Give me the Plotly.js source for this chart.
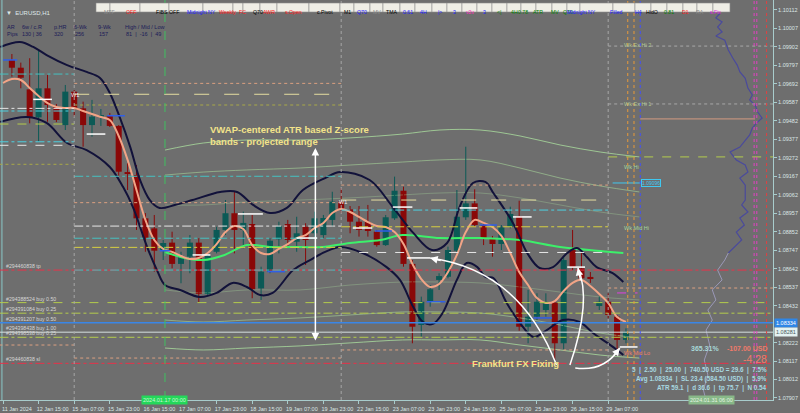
<!DOCTYPE html>
<html><head><meta charset="utf-8">
<script src="https://cdn.plot.ly/plotly-3.0.1.min.js"></script>
<style>html,body{margin:0;padding:0;background:#6e6e6e;overflow:hidden}#chart{width:800px;height:413px}</style>
</head><body><div id="chart"></div>
<script>
// ---------- DATA ----------
const candleOpen  = [1.09828,1.09784,1.09661,1.09502,1.09667,1.09562,1.09458,1.09648,1.09553,1.09458,1.09504,1.09510,1.09453,1.09191,1.09174,1.08928,1.08871,1.08744,1.08790,1.08669,1.08710,1.08790,1.08498,1.08738,1.08862,1.08957,1.08862,1.08896,1.08530,1.08625,1.08809,1.08896,1.08795,1.08880,1.08843,1.08833,1.08919,1.09023,1.08979,1.08909,1.08907,1.08852,1.08776,1.08928,1.09085,1.08669,1.08322,1.08454,1.08578,1.08596,1.08744,1.08934,1.09013,1.08890,1.08815,1.08782,1.08880,1.08941,1.08312,1.08369,1.08407,1.08449,1.08218,1.08748,1.08644,1.08595,1.08430,1.08454,1.08369,1.08237];
const candleHigh  = [1.09862,1.09813,1.09838,1.09879,1.09743,1.09578,1.09686,1.09657,1.09591,1.09601,1.09549,1.09527,1.09458,1.09242,1.09231,1.08958,1.08947,1.08805,1.08852,1.08738,1.08833,1.08815,1.08731,1.08880,1.09032,1.09079,1.08966,1.08947,1.08653,1.08815,1.08909,1.08919,1.08937,1.08900,1.08966,1.08947,1.09079,1.09099,1.08998,1.08998,1.09004,1.08862,1.08947,1.09165,1.09108,1.08691,1.08483,1.08549,1.08616,1.08767,1.09089,1.09335,1.09093,1.08900,1.08828,1.08890,1.08994,1.09028,1.08521,1.08502,1.08502,1.08464,1.08710,1.08862,1.08733,1.08623,1.08483,1.08502,1.08379,1.08303];
const candleLow   = [1.09733,1.09667,1.09468,1.09364,1.09477,1.09475,1.09430,1.09506,1.09335,1.09392,1.09453,1.09447,1.09165,1.09089,1.08862,1.08738,1.08625,1.08691,1.08644,1.08559,1.08616,1.08449,1.08487,1.08729,1.08833,1.08729,1.08758,1.08474,1.08464,1.08616,1.08729,1.08767,1.08738,1.08663,1.08824,1.08816,1.08880,1.08957,1.08843,1.08824,1.08824,1.08767,1.08771,1.08919,1.08653,1.08218,1.08255,1.08426,1.08521,1.08587,1.08729,1.08919,1.08880,1.08776,1.08710,1.08748,1.08871,1.08289,1.08218,1.08350,1.08369,1.08123,1.08180,1.08634,1.08578,1.08561,1.08407,1.08360,1.08180,1.08218];
const candleClose = [1.09784,1.09727,1.09502,1.09667,1.09572,1.09487,1.09648,1.09553,1.09458,1.09506,1.09515,1.09453,1.09193,1.09180,1.08928,1.08815,1.08744,1.08788,1.08669,1.08710,1.08790,1.08498,1.08714,1.08862,1.08957,1.08862,1.08902,1.08525,1.08625,1.08801,1.08884,1.08805,1.08843,1.08805,1.08928,1.08930,1.09023,1.08979,1.08909,1.08862,1.08856,1.08776,1.08934,1.09085,1.08669,1.08312,1.08454,1.08525,1.08600,1.08748,1.08937,1.09013,1.08890,1.08815,1.08782,1.08877,1.08953,1.08312,1.08369,1.08454,1.08447,1.08218,1.08691,1.08650,1.08587,1.08583,1.08454,1.08379,1.08237,1.08284];
const candleIdx = candleOpen.map((_, k) => k + 1);

// salmon moving average (one value per bar, bar 0..70)
const maValues = [1.09697,1.09720,1.09714,1.09669,1.09623,1.09583,1.09561,1.09555,1.09555,1.09538,1.09521,1.09504,1.09487,1.09396,1.09260,1.09089,1.08919,1.08805,1.08754,1.08737,1.08714,1.08697,1.08703,1.08731,1.08782,1.08850,1.08884,1.08867,1.08776,1.08731,1.08725,1.08754,1.08782,1.08816,1.08833,1.08873,1.08902,1.08958,1.08981,1.08964,1.08936,1.08907,1.08884,1.08879,1.08850,1.08782,1.08669,1.08583,1.08538,1.08555,1.08623,1.08720,1.08850,1.08919,1.08902,1.08879,1.08828,1.08731,1.08623,1.08549,1.08475,1.08447,1.08458,1.08515,1.08561,1.08578,1.08543,1.08498,1.08447,1.08367,1.08339];
const maIdx = maValues.map((_, k) => k);

// dark navy envelope
const upIdx = [-0.3,1.9,3.4,4.9,7.2,9.4,10.9,12.0,13.1,14.3,15.4,16.5,17.6,19.3,21.3,24.4,26.3,28.1,30.0,31.9,33.7,36.2,37.9,41.2,43.8,46.1,48.2,49.9,51.3,52.8,54.2,55.1,57.3,58.9,60.3,61.8,63.4,64.5,65.6,66.7,68.5,69.7];
const upVal = [1.09902,1.09930,1.09902,1.09856,1.09799,1.09760,1.09726,1.09640,1.09504,1.09333,1.09146,1.09032,1.08987,1.09004,1.09032,1.09078,1.09078,1.09004,1.08958,1.08987,1.09089,1.09157,1.09191,1.09146,1.08992,1.08845,1.08748,1.08788,1.08992,1.09129,1.09135,1.09072,1.08902,1.08731,1.08646,1.08651,1.08731,1.08759,1.08708,1.08651,1.08617,1.08566];
const loIdx = [-0.3,2.7,4.9,7.2,9.4,12.0,13.5,14.6,16.2,17.3,18.2,19.9,22.1,24.0,25.8,27.4,28.9,30.3,32.6,34.5,36.2,37.9,40.4,43.1,44.6,46.1,47.2,48.3,49.4,51.0,52.1,53.3,54.2,55.1,56.6,58.1,59.6,61.1,62.9,64.8,66.3,67.9,69.0,69.7];
const loVal = [1.09476,1.09504,1.09470,1.09356,1.09316,1.09220,1.09106,1.08992,1.08765,1.08634,1.08549,1.08521,1.08481,1.08504,1.08561,1.08538,1.08492,1.08504,1.08634,1.08691,1.08737,1.08765,1.08731,1.08651,1.08578,1.08424,1.08339,1.08328,1.08390,1.08578,1.08674,1.08651,1.08595,1.08589,1.08447,1.08333,1.08254,1.08293,1.08350,1.08339,1.08276,1.08220,1.08180,1.08151];

// VWAP (bright green)
const vwapIdx = [18.2,20.4,22.5,24.9,27.4,30.0,33.4,35.9,39.0,42.4,44.9,49.1,53.6,58.1,62.6,67.1,69.7];
const vwapVal = [1.08737,1.08703,1.08691,1.08720,1.08776,1.08765,1.08765,1.08765,1.08788,1.08805,1.08833,1.08816,1.08816,1.08805,1.08765,1.08742,1.08731];

// ATR z-score bands (pale green)
const zIdx = [18.2,22.5,27.4,33.4,39.0,44.9,49.1,53.6,58.1,62.6,67.1,71.5];
const zUp3 = [1.09316,1.09356,1.09373,1.09373,1.09385,1.09407,1.09430,1.09430,1.09396,1.09345,1.09305,1.09277];
const zUp2 = [1.09174,1.09191,1.09203,1.09214,1.09231,1.09248,1.09260,1.09260,1.09214,1.09157,1.09112,1.09078];
const zUp1 = [1.09004,1.09004,1.09021,1.09032,1.09044,1.09061,1.09072,1.09072,1.09044,1.09004,1.08964,1.08936];
const zLo1 = [1.08521,1.08504,1.08521,1.08521,1.08549,1.08566,1.08566,1.08561,1.08538,1.08509,1.08481,1.08464];
const zLo2 = [1.08350,1.08339,1.08350,1.08362,1.08379,1.08396,1.08396,1.08390,1.08362,1.08322,1.08276,1.08248];
const zLo3 = [1.08191,1.08180,1.08191,1.08203,1.08220,1.08237,1.08237,1.08237,1.08208,1.08180,1.08151,1.08134];

// volume profile (right side)
const profIdxA = [80.6,80.1,80.8,80.3,80.8,80.1,81.1,81.5,82.0,82.5,82.8,83.4,83.7,84.2,83.9,84.5,84.8,85.3,84.8,84.2,83.9,83.4,82.8,81.7,82.4,83.4,83.7,82.8,83.4,83.4,83.0,83.7,82.8,83.3,82.4,83.0,82.1,81.5];
const profValA = [1.10095,1.10067,1.10044,1.10015,1.09987,1.09964,1.09941,1.09885,1.09839,1.09799,1.09760,1.09724,1.09669,1.09629,1.09601,1.09572,1.09532,1.09498,1.09476,1.09441,1.09402,1.09373,1.09333,1.09305,1.09260,1.09231,1.09191,1.09157,1.09117,1.09032,1.09004,1.08964,1.08930,1.08890,1.08850,1.08805,1.08759,1.08731];
const profIdxB = [81.5,81.1,80.3,80.8,79.7,80.1,79.2,79.7,79.0,79.4,78.8,79.2,78.7,79.0];
const profValB = [1.08731,1.08691,1.08634,1.08578,1.08521,1.08464,1.08407,1.08350,1.08293,1.08208,1.08123,1.08038,1.07952,1.07895];

// horizontal levels
const levelPrice = [1.08634,1.08449,1.08389,1.08334,1.08281,1.08252,1.08104,
  1.09748,1.09553,1.09538,1.09464,1.09363,1.09343,1.09235,1.08208,
  1.09695,1.09633,1.09572,1.09167,1.09017,1.08884,1.08815,1.08763,1.08634,1.08134,
  1.09117,1.09032,1.08975,1.08880,1.08734,1.08180,
  1.09907,1.09578,1.09277,1.08532,
  1.09493,1.08504,1.09129];
const levelFrom = [-0.4,-0.4,-0.4,-0.4,-0.4,-0.4,-0.4,
  -0.4,-0.4,-0.4,-0.4,-0.4,-0.4,-0.4,-0.4,
  8,8,8,8,8,8,8,8,8,8,
  38,38,38,38,38,38,
  68,68,68,68,
  71.6,69,68.5];
const levelTo = [86.6,86.6,86.6,86.6,86.6,86.6,86.6,
  8,8,8,8,8,8,8,8,
  38,38,38,38,38,38,38,38,38,38,
  68,68,68,68,68,68,
  86.6,86.6,86.6,86.6,
  84.5,71.3,71.6];
const levelKind = ['red','yg','ygdd','blue','bid','ygdd','red',
  'teal','whitedd','cyan','yg','cyan','whited','olive','salmon',
  'salmon','pale','olive','teal','salmon','whitedd','teal','yellow','teal','salmon',
  'salmon','pale','cyan','yellow','whited','salmon',
  'gray','gray','yg','salmon',
  'poc','magenta','cyanSolid'];

// short bar markers
const whiteMarkFrom = [3.4,9.4,21.3,26.4,33.0,39.3,43.8,45.4,51.3,57.3,63.4,69.3];
const whiteMarkTo   = [5.5,11.5,23.3,29.2,35.3,41.5,46.0,48.0,53.3,59.4,65.4,71.3];
const whiteMarkVal  = [1.09604,1.09407,1.08720,1.08953,1.08816,1.08873,1.08992,1.08703,1.08987,1.08936,1.08651,1.08197];
const blueMarkFrom = [0,11.7,17.6,29.7,41.8,47.6,53.6,59.6];
const blueMarkTo   = [1.6,13.7,18.8,31.7,43.7,49.7,55.5,61.7];
const blueMarkVal  = [1.09828,1.09511,1.08744,1.08625,1.08856,1.08454,1.08890,1.08362];

// vertical markers
const vLineIdx  = [8,38,68,18.2,70.2,70.9,71.6,84.4,84.7,85.8];
const vLineKind = ['sep','sep','sep','cross','orange','orange','blueV','mag','mag','redV'];

// axis labels
const tickIdx = [0,4,8,12,16,20,24,28,32,36,40,44,48,52,56,60,64,68];
const tickText = ['11 Jan 2024','12 Jan 15:00','15 Jan 07:00','15 Jan 23:00','16 Jan 15:00','17 Jan 07:00','17 Jan 23:00','18 Jan 15:00','19 Jan 07:00','19 Jan 23:00','22 Jan 15:00','23 Jan 07:00','23 Jan 23:00','24 Jan 15:00','25 Jan 07:00','25 Jan 23:00','26 Jan 15:00','29 Jan 07:00'];
const priceTicks = [1.10112,1.10007,1.09902,1.09797,1.09692,1.09587,1.09482,1.09377,1.09272,1.09167,1.09062,1.08957,1.08852,1.08747,1.08642,1.08537,1.08432,1.08222,1.08117,1.08012,1.07907];

// trade labels
const tradeText  = ['#294460838 tp','#294388524 buy 0.50','#294391084 buy 0.25','#294391207 buy 0.50','#294398438 buy 1.00','#294398538 buy 0.25','#294460838 sl'];
const tradePrice = [1.08634,1.08449,1.08389,1.08334,1.08281,1.08252,1.08104];

// buttons
const btnLabels = ['MTF','OFF','FIBS OFF','Midnight NY','Weekly','FC','Q70','AWR','s.Open','c.Pivot','M1','Q70','MV','TMA','0.61','4H','|>','3','v2v','3','<|','4H','0.78','ATR','MV','Q70','Midnight NY','Filled','H4','HidO','0.81','D1','RA','s.Fix'];

// ---------- STYLE / LAYOUT ----------
const W = 773, H = 400;
const px = x => x / W, py = y => 1 - y / H;
const FONT = 'Liberation Sans, Arial, sans-serif';
const btnEdges = [96,110,140,169,203,233,243,260,277,309,340,354,370,383,400,415,432,447,462,477,492,507,521,536,552,567,580,613,635,651,667,683,697,713,730];
const btnColors = ['#8c8c8c','#ff2020','#000','#2020ff','#ff2020','#ff2020','#000','#ff2020','#ff2020','#000','#000','#2020ff','#8c8c8c','#000','#2020ff','#2020ff','#2020ff','#2020ff','#ff30c0','#2020ff','#008000','#008000','#008000','#008000','#008000','#008000','#2020ff','#2020ff','#2020ff','#000','#008000','#ff2020','#8c8c8c','#e020e0'];
const kindStyle = {
  red:{color:'#e8324a',dash:'dashdot'}, yg:{color:'#b4cc4c',dash:'dash'}, ygdd:{color:'#b4cc4c',dash:'dashdot'},
  blue:{color:'#3a86e6',dash:'solid',width:1.5}, bid:{color:'#d4dede',dash:'solid'}, teal:{color:'#46c2c2',dash:'dashdot'},
  whitedd:{color:'#e6e6e6',dash:'dashdot'}, whited:{color:'#e6e6e6',dash:'dash'}, cyan:{color:'#4cd0e0',dash:'dashdot'},
  olive:{color:'#a8a848',dash:'dot'}, salmon:{color:'#dca080',dash:'dot'}, pale:{color:'#e6dea0',dash:'longdash'},
  yellow:{color:'#d8d040',dash:'dashdot'}, gray:{color:'#a8a8a8',dash:'dot'}, poc:{color:'#d49a80',dash:'solid'},
  magenta:{color:'#e040e0',dash:'dash'}, cyanSolid:{color:'#40c8f0',dash:'solid'}
};
const vStyle = {sep:{color:'#a6a6a6',dash:'dot'}, cross:{color:'#40c060',dash:'dash'}, orange:{color:'#e89a3a',dash:'dot'},
  blueV:{color:'#4050ff',dash:'dot'}, mag:{color:'#e040c0',dash:'dot'}, redV:{color:'#e04040',dash:'dot'}};
const BULL = '#0c5a56', BEAR = '#8a0808';

const traces = [];
const paleBand = (vals, op) => ({x:zIdx, y:vals, type:'scatter', mode:'lines', line:{color:'#a6d69a', width:1, shape:'spline'}, opacity:op, hoverinfo:'skip'});
traces.push(paleBand(zUp3,0.85), paleBand(zUp2,0.6), paleBand(zUp1,0.35), paleBand(zLo1,0.35), paleBand(zLo2,0.6), paleBand(zLo3,0.85));

function wickTrace(isBull){
  const xs = [], ys = [];
  candleIdx.forEach((x, k) => {
    if ((candleClose[k] >= candleOpen[k]) === isBull) { xs.push(x, x, null); ys.push(candleLow[k], candleHigh[k], null); }
  });
  return {x:xs, y:ys, type:'scatter', mode:'lines', line:{color:isBull?BULL:BEAR, width:1}, hoverinfo:'skip'};
}
function bodyTrace(isBull){
  const xs = [], base = [], h = [];
  candleIdx.forEach((x, k) => {
    const o = candleOpen[k], c = candleClose[k];
    if ((c >= o) === isBull) { xs.push(x); base.push(Math.min(o, c)); h.push(Math.max(Math.abs(c - o), 0.000025)); }
  });
  return {x:xs, y:h, base:base, type:'bar', width:0.68, marker:{color:isBull?BULL:BEAR, line:{width:0}}, hoverinfo:'skip'};
}
traces.push(wickTrace(true), wickTrace(false), bodyTrace(true), bodyTrace(false));

traces.push({x:vwapIdx, y:vwapVal, type:'scatter', mode:'lines', line:{color:'#3cf06a', width:2, shape:'spline'}, hoverinfo:'skip'});
traces.push({x:upIdx, y:upVal, type:'scatter', mode:'lines', line:{color:'#12123a', width:2, shape:'spline'}, hoverinfo:'skip'});
traces.push({x:loIdx, y:loVal, type:'scatter', mode:'lines', line:{color:'#12123a', width:2, shape:'spline'}, hoverinfo:'skip'});
traces.push({x:maIdx, y:maValues, type:'scatter', mode:'lines', line:{color:'#f2a486', width:2, shape:'spline'}, hoverinfo:'skip'});
traces.push({x:profIdxA, y:profValA, type:'scatter', mode:'lines', line:{color:'#4a4a9c', width:1.2}, hoverinfo:'skip'});
traces.push({x:profIdxB, y:profValB, type:'scatter', mode:'lines', line:{color:'#9a98b8', width:1}, hoverinfo:'skip'});

const shapes = [];
shapes.push({type:'line', xref:'x', yref:'paper', x0:-0.12, x1:-0.12, y0:0, y1:1, line:{color:'#8ac8c8', width:1}});
levelPrice.forEach((p, k) => {
  const s = kindStyle[levelKind[k]];
  shapes.push({type:'line', xref:'x', yref:'y', x0:levelFrom[k], x1:levelTo[k], y0:p, y1:p, line:{color:s.color, dash:s.dash, width:s.width||1}});
});
vLineIdx.forEach((v, k) => {
  const s = vStyle[vLineKind[k]];
  shapes.push({type:'line', xref:'x', yref:'paper', x0:v, x1:v, y0:0, y1:1, line:{color:s.color, dash:s.dash, width:1}});
});
whiteMarkVal.forEach((p, k) => shapes.push({type:'line', xref:'x', yref:'y', x0:whiteMarkFrom[k], x1:whiteMarkTo[k], y0:p, y1:p, line:{color:'#ffffff', width:1.5}}));
blueMarkVal.forEach((p, k) => shapes.push({type:'line', xref:'x', yref:'y', x0:blueMarkFrom[k], x1:blueMarkTo[k], y0:p, y1:p, line:{color:'#2f5fe8', width:1.5}}));
const curves = [[62.2,1.08094,58.1,1.08634,48.0,1.08703],[63.7,1.08094,66.2,1.08464,64.6,1.08646],[64.3,1.08077,67.6,1.08055,69.3,1.08191]];
curves.forEach(c => shapes.push({type:'path', xref:'x', yref:'y', path:`M ${c[0]},${c[1]} Q ${c[2]},${c[3]} ${c[4]},${c[5]}`, line:{color:'#ffffff', width:1.5}}));
btnLabels.forEach((b, k) => shapes.push({type:'rect', xref:'x', yref:'paper',
  x0:-0.337 + btnEdges[k]/8.9, x1:-0.337 + btnEdges[k+1]/8.9, y0:py(12), y1:py(3),
  fillcolor:'#efeee6', line:{color:'#8f8f8f', width:0.6}, layer:'above'}));

const ann = [];
btnLabels.forEach((b, k) => ann.push({xref:'paper', yref:'paper', x:px((btnEdges[k]+btnEdges[k+1])/2), y:py(7.5), text:b, showarrow:false,
  borderpad:0, font:{family:FONT, size:5.2, color:btnColors[k]}}));
ann.push({xref:'paper', yref:'paper', x:px(4), y:py(7.5), xanchor:'left', text:'▼  EURUSD,H1', showarrow:false, font:{family:FONT, size:6, color:'#dfe8e8'}});
const panel = [[5,'AR'],[5,'Pips',1],[20,'6w / c.R'],[20,'130 | 36',1],[52,'p.HR'],[52,'320',1],[72,'6-Wk'],[73,'256',1],[96,'9-Wk'],[97,'157',1],[123,'High / Mid / Low'],[124,'81  |  -16  |  49',1]];
panel.forEach(p => ann.push({xref:'paper', yref:'paper', x:px(p[0]), y:py(p[2]?28.8:22.3), xanchor:'left', text:p[1], showarrow:false, font:{family:FONT, size:5.5, color:'#1c1c58'}}));
tradeText.forEach((t, k) => ann.push({xref:'x', yref:'y', x:0.1, y:tradePrice[k], xanchor:'left', yanchor:'bottom', yshift:-1, text:t, showarrow:false, font:{family:FONT, size:5.2, color:'#d6d6d6'}}));
ann.push({xref:'x', yref:'y', x:8.1, y:1.09629, text:'W1', showarrow:false, font:{family:FONT, size:5.5, color:'#f0f0f0'}});
ann.push({xref:'x', yref:'y', x:38.2, y:1.09021, text:'W1', showarrow:false, font:{family:FONT, size:5.5, color:'#f0f0f0'}});
const wkLab = [['Wk Ex Hi 2',1.09913,'#b0c890'],['Wk Ex Hi 1',1.09578,'#b0c890'],['Wk Hi',1.09220,'#a6d69a'],['Wk Mid Hi',1.08873,'#a6d69a'],['Wk Mid Lo',1.08163,'#f08070']];
wkLab.forEach(w => ann.push({xref:'x', yref:'y', x:69.6, y:w[1], xanchor:'left', text:w[0], showarrow:false, font:{family:FONT, size:5.5, color:w[2]}}));
ann.push({xref:'x', yref:'y', x:71.7, y:1.09129, xanchor:'left', text:'1.09096', showarrow:false, bgcolor:'#6e6e6e', bordercolor:'#40c8f0', borderwidth:1, borderpad:0, font:{family:FONT, size:5, color:'#40c8f0'}});
ann.push({xref:'paper', yref:'paper', x:px(208), y:py(135), xanchor:'left', align:'left', text:'<b>VWAP-centered ATR based Z-score<br>bands - projected range</b>', showarrow:false, font:{family:FONT, size:9.5, color:'#f2e38a'}});
ann.push({xref:'paper', yref:'paper', x:px(470), y:py(371), xanchor:'left', text:'<b>Frankfurt FX Fixing</b>', showarrow:false, font:{family:FONT, size:9.5, color:'#f2e38a'}});
ann.push({xref:'x', yref:'y', x:35.1, y:1.09328, axref:'x', ayref:'y', ax:35.1, ay:1.08225, text:'', showarrow:true, arrowside:'end+start', arrowhead:2, arrowsize:1, arrowwidth:1.5, arrowcolor:'#ffffff'});
ann.push({xref:'x', yref:'y', x:48.0, y:1.08703, ax:12, ay:3, text:'', showarrow:true, arrowhead:2, arrowwidth:1.5, arrowcolor:'#ffffff'});
ann.push({xref:'x', yref:'y', x:64.6, y:1.08646, ax:3, ay:14, text:'', showarrow:true, arrowhead:2, arrowwidth:1.5, arrowcolor:'#ffffff'});
ann.push({xref:'x', yref:'y', x:69.3, y:1.08191, ax:-7, ay:9, text:'', showarrow:true, arrowhead:2, arrowwidth:1.5, arrowcolor:'#ffffff'});
const stats = [[353,'<b>365.31%</b>',720,'#a8d8d8',7],[353,'<b>-107.00 USD</b>',768,'#f07a6a',7],[365.5,'-4.28',768,'#f07a6a',10.5],
  [375,'<b>5  |  2.50  |  25.00  |  740.50 USD = 29.6  |  7.5%</b>',768,'#a8d8e0',6.3],
  [384,'<b>Avg 1.08334  |  SL 23.4 (584.50 USD)  |  5.9%</b>',768,'#a8d8e0',6.3],
  [393,'<b>ATR 59.1  |  d 36.6  |  tp 75.7  |  N 0.54</b>',768,'#a8d8e0',6.3]];
stats.forEach(s => ann.push({xref:'paper', yref:'paper', x:px(s[2]), y:py(s[0]), xanchor:'right', text:s[1], showarrow:false, borderpad:0, font:{family:FONT, size:s[4], color:s[3]}}));
ann.push({xref:'paper', yref:'y', x:px(774), y:1.08334, xanchor:'left', text:'1.08334', showarrow:false, bgcolor:'#2f86e6', borderpad:1, font:{family:FONT, size:5.5, color:'#ffffff'}});
ann.push({xref:'paper', yref:'y', x:px(774), y:1.08281, xanchor:'left', text:'1.08281', showarrow:false, bgcolor:'#e4f2f2', borderpad:1, font:{family:FONT, size:5.5, color:'#4a5a5a'}});
ann.push({xref:'x', yref:'paper', x:18.2, y:py(404.5), text:'2024.01.17 00:00', showarrow:false, bgcolor:'#24d85a', borderpad:1, font:{family:FONT, size:5.5, color:'#c8f8d4'}});
ann.push({xref:'x', yref:'paper', x:79.6, y:py(404.5), text:'2024.01.31 06:00', showarrow:false, bgcolor:'#88b888', borderpad:1, font:{family:FONT, size:5.5, color:'#e2f4e2'}});

const layout = {
  width:800, height:413, margin:{l:0, r:27, t:0, b:13, pad:0},
  paper_bgcolor:'#6e6e6e', plot_bgcolor:'#6e6e6e', showlegend:false, dragmode:false, barmode:'overlay',
  xaxis:{range:[-0.337, 86.52], showgrid:false, zeroline:false,
    tickmode:'array', tickvals:tickIdx, ticktext:tickText, ticks:'outside', ticklen:3, tickcolor:'#a8cccc',
    tickfont:{family:FONT, size:5.5, color:'#dbe6e6'}, ticklabelshift:14, showline:true, linecolor:'#a8cccc', linewidth:1, fixedrange:true},
  yaxis:{range:[1.078956, 1.101688], side:'right', showgrid:false, zeroline:false, tickmode:'array', tickvals:priceTicks, tickformat:'.5f',
    ticks:'outside', ticklen:3, tickcolor:'#a8cccc', tickfont:{family:FONT, size:5.5, color:'#dbe6e6'}, showline:true, linecolor:'#a8cccc', linewidth:1, fixedrange:true},
  shapes:shapes, annotations:ann
};
Plotly.newPlot('chart', traces, layout, {displayModeBar:false, staticPlot:true});
</script></body></html>
